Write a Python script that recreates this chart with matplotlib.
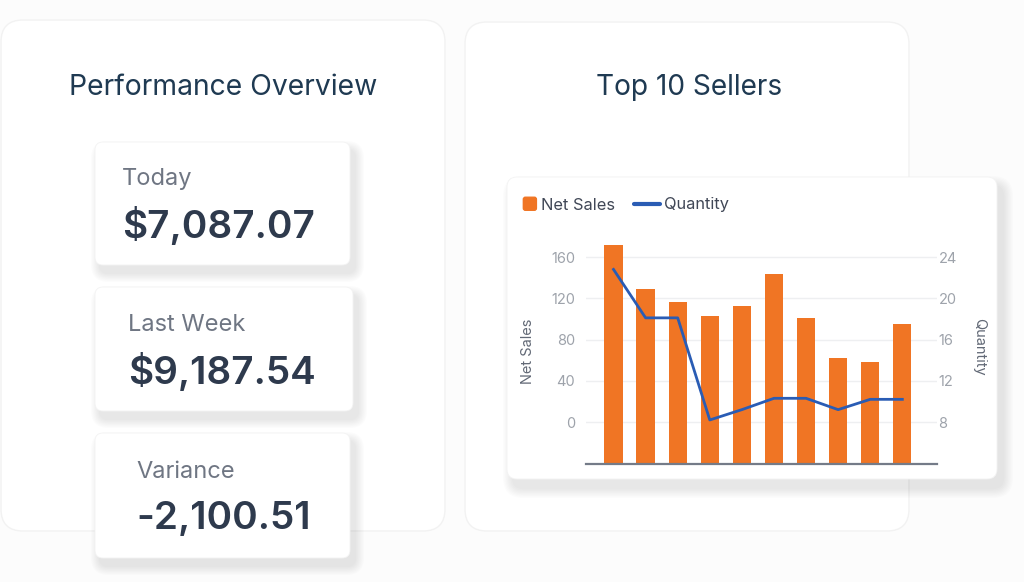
import matplotlib
matplotlib.use("Agg")
import matplotlib.pyplot as plt
from matplotlib.patches import FancyBboxPatch
from matplotlib.lines import Line2D
from matplotlib.patches import Patch
from matplotlib.legend_handler import HandlerPatch
import numpy as np

plt.rcParams['font.family'] = ['Inter', 'DejaVu Sans']

# ---------------- data ----------------
kpi_labels = ["Today", "Last Week", "Variance"]
kpi_values = ["$7,087.07", "$9,187.54", "-2,100.51"]
left_title = "Performance Overview"
right_title = "Top 10 Sellers"

sellers = list(range(1, 11))
net_sales = [172, 129, 116, 103, 112.5, 143.5, 101, 62, 58, 95]
quantity = [22.8, 18.1, 18.1, 8.2, 9.2, 10.3, 10.3, 9.2, 10.2, 10.2]
sales_ticks = [0, 40, 80, 120, 160]
qty_ticks = [8, 12, 16, 20, 24]
series_names = ["Net Sales", "Quantity"]

# ---------------- style ----------------
W, H, DPI = 1024, 582, 100
ORANGE = "#f07524"
BLUE = "#2a5cb4"
TITLE_C = "#1f3a52"
LABEL_C = "#6f7683"
VALUE_C = "#2e3a4d"
TICK_C = "#9ea3ab"

fig = plt.figure(figsize=(W / DPI, H / DPI), dpi=DPI)
fig.patch.set_facecolor("#fcfcfc")
bg = fig.add_axes([0, 0, 1, 1])
bg.set_xlim(0, W)
bg.set_ylim(H, 0)
bg.axis("off")


def rbox(x0, y0, x1, y1, r, fc, ec="none", lw=0, z=1, alpha=1.0):
    p = FancyBboxPatch((x0 + r, y0 + r), (x1 - x0) - 2 * r, (y1 - y0) - 2 * r,
                       boxstyle=f"round,pad={r}", fc=fc, ec=ec, lw=lw,
                       zorder=z, alpha=alpha, transform=bg.transData)
    bg.add_patch(p)


def shadow(x0, y0, x1, y1, r, dx, dy, spread, z):
    n = 8
    for i in range(n):
        e = spread * (1 - i / n)
        rbox(x0 + dx - e, y0 + dy - e, x1 + dx + e, y1 + dy + e, r + e,
             fc="#000000", z=z, alpha=0.013)


# big panels
rbox(1, 20, 445, 531, 22, "#ffffff", ec="#f2f2f2", lw=1.0, z=1)
rbox(465, 22, 909, 531, 22, "#ffffff", ec="#f2f2f2", lw=1.0, z=1)

bg.text(69, 95, left_title, fontsize=20.4, color=TITLE_C, va="baseline",
        ha="left", zorder=10)
bg.text(596, 95, right_title, fontsize=20.2, color=TITLE_C, va="baseline",
        ha="left", zorder=10)

# KPI cards
cards = [(95, 142, 350, 265), (95, 287, 353, 411), (95, 433, 350, 558)]
label_pos = [(122, 185), (128, 331), (136, 478)]
value_pos = [(122, 238), (128, 384), (136, 529)]
for (x0, y0, x1, y1), lab, val, lp, vp in zip(cards, kpi_labels, kpi_values,
                                               label_pos, value_pos):
    shadow(x0, y0, x1, y1, 8, 5, 8, 9, 3)
    rbox(x0, y0, x1, y1, 8, "#ffffff", ec="#f3f3f3", lw=0.6, z=4)
    bg.text(lp[0], lp[1], lab, fontsize=17, color=LABEL_C, va="baseline",
            ha="left", zorder=10)
    bg.text(vp[0], vp[1], val, fontsize=27.8, color=VALUE_C, va="baseline",
            ha="left", fontweight="semibold", zorder=10)

# chart card
shadow(507, 177, 997, 479, 10, 6, 9, 10, 3)
rbox(507, 177, 997, 479, 10, "#ffffff", ec="#f3f3f3", lw=0.6, z=4)

# ---------------- chart ----------------
ax_l, ax_r, ax_t, ax_b = 586, 937, 240, 464
ax = fig.add_axes([ax_l / W, (H - ax_b) / H, (ax_r - ax_l) / W, (ax_b - ax_t) / H])
ax.set_zorder(20)
ax.patch.set_alpha(0)

x = np.arange(len(sellers))
s_lo, s_hi = -40.7, 176.5
q_lo, q_hi = 3.93, 25.65
ax.set_ylim(s_lo, s_hi)
ax.set_xlim(-0.857, 10.08)

ax.bar(x, np.array(net_sales) - s_lo, bottom=s_lo, width=0.57, color=ORANGE,
       zorder=3)
ax.set_yticks(sales_ticks)
ax.yaxis.grid(True, color="#eeeff1", lw=1.0, zorder=0)
ax.set_axisbelow(True)
ax.tick_params(axis="y", length=0, labelsize=10.5, labelcolor=TICK_C, pad=8)
ax.set_xticks([])
for s in ["top", "right", "left"]:
    ax.spines[s].set_visible(False)
ax.spines["bottom"].set_color("#747b88")
ax.spines["bottom"].set_linewidth(1.6)
ax.spines["bottom"].set_zorder(5)
ax.set_ylabel(series_names[0], fontsize=10.5, color="#626976")
ax.yaxis.set_label_coords((528 - ax_l) / (ax_r - ax_l), (ax_b - 351) / (ax_b - ax_t))
ax.yaxis.label.set_va("center")

ax2 = ax.twinx()
ax2.set_ylim(q_lo, q_hi)
ax2.plot(x, quantity, color=BLUE, lw=2.0, zorder=4)
ax2.set_yticks(qty_ticks)
ax2.tick_params(axis="y", length=0, labelsize=10.5, labelcolor=TICK_C, pad=1)
for s in ["top", "right", "left", "bottom"]:
    ax2.spines[s].set_visible(False)
ax2.set_ylabel(series_names[1], fontsize=10.5, color="#626976", rotation=270)
ax2.yaxis.set_label_coords((979 - ax_l) / (ax_r - ax_l), (ax_b - 347) / (ax_b - ax_t))
ax2.yaxis.label.set_va("center")


def square_patch(legend, orig_handle, xdescent, ydescent, width, height, fontsize):
    s = 9.4
    return FancyBboxPatch((-xdescent + width - s, -ydescent + (height - s) / 2), s, s,
                          boxstyle="round,pad=0,rounding_size=1.5",
                          fc=ORANGE, ec="none")


handles = [Patch(color=ORANGE),
           Line2D([], [], color=BLUE, lw=3, solid_capstyle="round")]
leg = ax2.legend(handles, series_names, loc="center left",
                 bbox_to_anchor=(511 / W, (H - 205) / H),
                 bbox_transform=fig.transFigure, ncol=2, frameon=False,
                 borderpad=0, borderaxespad=0, handlelength=1.55,
                 handletextpad=0.3, columnspacing=1.15, fontsize=11.8,
                 handler_map={Patch: HandlerPatch(patch_func=square_patch)})
for t in leg.get_texts():
    t.set_color("#404756")

fig.savefig("out.png", dpi=DPI, facecolor=fig.get_facecolor())
